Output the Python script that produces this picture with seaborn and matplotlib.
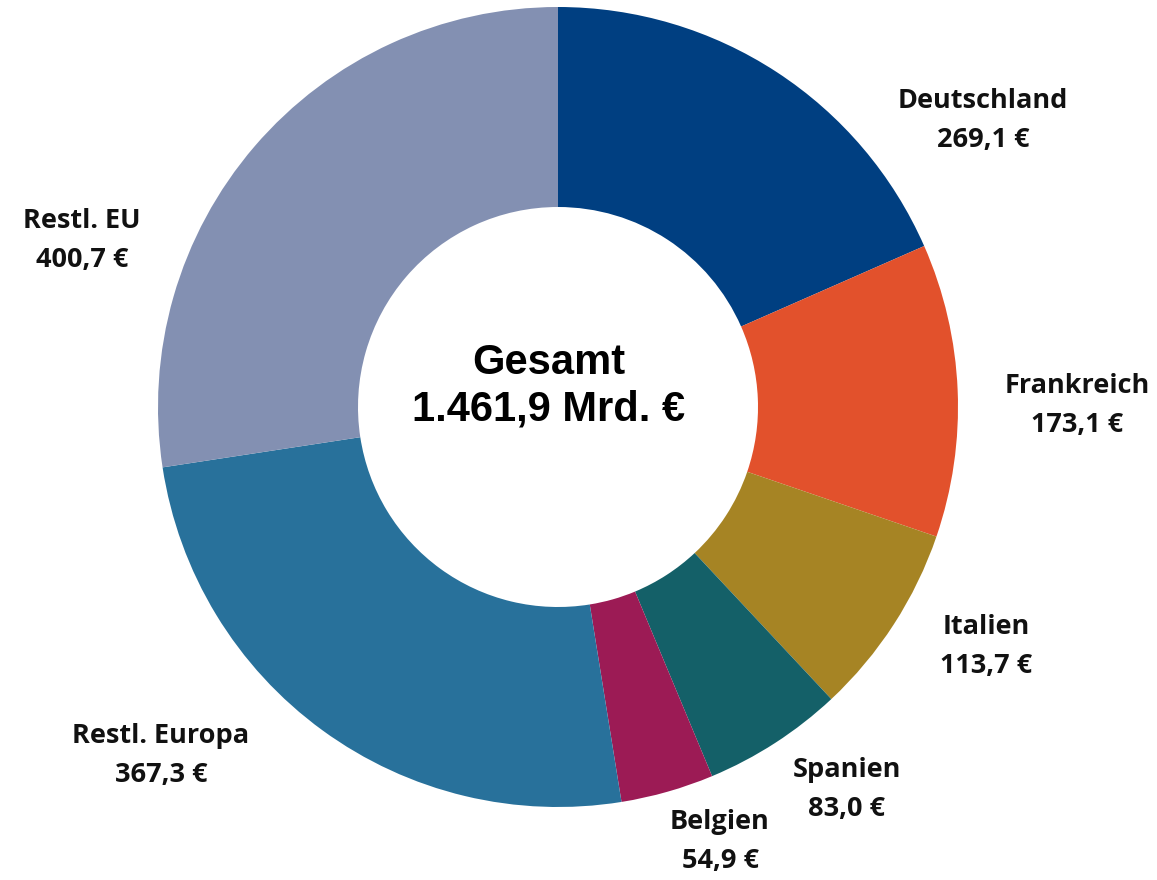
import matplotlib
matplotlib.use("Agg")
import matplotlib.pyplot as plt
import seaborn as sns

sns.set_theme(style="white")
plt.rcParams['font.family'] = ['Open Sans', 'DejaVu Sans']

countries = ['Deutschland', 'Frankreich', 'Italien', 'Spanien', 'Belgien',
             'Restl. Europa', 'Restl. EU']
values = [269.1, 173.1, 113.7, 83.0, 54.9, 367.3, 400.7]
value_labels = ['269,1 €', '173,1 €', '113,7 €', '83,0 €', '54,9 €',
                '367,3 €', '400,7 €']
colors = ['#003f81', '#e2512c', '#a68424', '#146068', '#9c1b55',
          '#28719b', '#8390b2']
total_label = 'Gesamt\n1.461,9 Mrd. €'

# label anchors in pixels (x from left, y from top)
label_px = [(983, 120), (1077, 405), (986, 646), (847, 789), (720, 841),
            (161, 755), (82, 240)]

W, H = 1157, 880
cx, cy, R = 558, 407, 400

fig = plt.figure(figsize=(W / 100, H / 100), dpi=100)
ax = fig.add_axes([0, 0, 1, 1])
ax.pie(values, colors=colors, startangle=90, counterclock=False,
       radius=1, wedgeprops=dict(width=0.5, edgecolor='none'))
ax.set_xlim(-cx / R, (W - cx) / R)
ax.set_ylim(-(H - cy) / R, cy / R)
ax.set_aspect('equal')
ax.axis('off')

for name, val, (px, py) in zip(countries, value_labels, label_px):
    ax.text((px - cx) / R, (cy - py) / R, name + '\n' + val,
            ha='center', va='center', fontsize=19.5, fontweight='bold',
            linespacing=1.65, color='#111111')

ax.text((549 - cx) / R, (cy - 386) / R, total_label, ha='center',
        va='center', fontsize=30, fontweight='bold',
        family=['Liberation Sans', 'DejaVu Sans'], linespacing=1.2,
        color='black')

fig.savefig('out.png', dpi=100)
